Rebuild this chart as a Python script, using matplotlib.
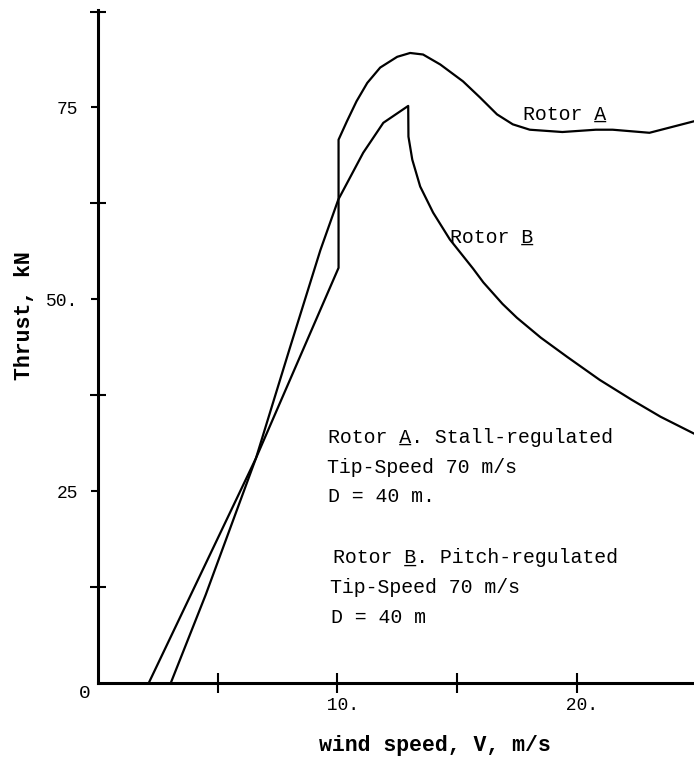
import matplotlib.pyplot as plt

# wind speed (m/s) and thrust (kN)
rotor_a_v = [2.12, 6.6, 10.05, 10.05, 10.4, 10.8, 11.25, 11.79, 12.5, 13.04, 13.58, 14.3,
             15.25, 15.96, 16.67, 17.33, 18.04, 19.4, 20.8, 21.5, 23.04, 24.9]
rotor_a_t = [0.0, 29.3, 54.1, 70.8, 73.2, 75.8, 78.2, 80.2, 81.6, 82.1, 81.9, 80.6,
             78.4, 76.3, 74.1, 72.8, 72.1, 71.8, 72.1, 72.1, 71.7, 73.2]

rotor_b_v = [3.04, 4.5, 6.6, 8.0, 9.29, 10.04, 11.08, 11.92, 12.96,
             12.97, 13.13, 13.46, 14.0, 14.7, 15.67, 16.1, 16.9, 17.5, 18.5,
             19.6, 20.96, 22.3, 23.5, 24.9]
rotor_b_t = [0.0, 11.5, 29.3, 43.5, 56.4, 63.0, 69.1, 73.0, 75.2,
             71.2, 68.2, 64.7, 61.3, 57.8, 54.0, 52.2, 49.4, 47.6, 45.0,
             42.5, 39.5, 36.9, 34.7, 32.5]

x_ticks = [5, 10, 15, 20]
x_ticklabels = ['', ' 10.', '', ' 20.']
y_ticks = [25, 50, 75]
y_ticklabels = ['25', '50.', '75']
y_minor = [12.5, 37.5, 62.5, 87.5]

mono = 'Liberation Mono'

fig = plt.figure(figsize=(6.94, 7.58), dpi=100)
ax = fig.add_axes([98/694, 75/758, 1 - 98/694, 673/758])

ax.plot(rotor_a_v, rotor_a_t, color='black', lw=1.6)
ax.plot(rotor_b_v, rotor_b_t, color='black', lw=1.6)

ax.set_xlim(0, 24.9)
ax.set_ylim(0, 87.7)

ax.spines['top'].set_visible(False)
ax.spines['right'].set_visible(False)
ax.spines['left'].set_linewidth(2.2)
ax.spines['bottom'].set_linewidth(2.2)

ax.set_xticks(x_ticks)
ax.set_xticklabels(x_ticklabels, family=mono, fontsize=13)
ax.tick_params(axis='x', direction='inout', length=14, width=1.5, pad=3)
ax.set_yticks(y_ticks)
ax.set_yticklabels(y_ticklabels, family=mono, fontsize=13)
ax.set_yticks(y_minor, minor=True)
ax.tick_params(axis='y', which='major', direction='out', length=5, width=1.5, pad=9)
ax.tick_params(axis='y', which='minor', direction='inout', length=12, width=1.5)

ax.text(-0.55, -1.4, '0', family=mono, fontsize=14, ha='center', va='center', clip_on=False)

# curve labels (monospace, so an underscore overlay underlines the letter)
def label(x, y, s, under=None):
    ax.text(x, y, s, family=mono, fontsize=14.3, ha='left', va='baseline')
    if under is not None:
        ax.text(x, y, ' ' * under + '_', family=mono, fontsize=14.3, ha='left', va='baseline')

label(17.75, 73.4, 'Rotor A', 6)
label(14.7, 57.4, 'Rotor B', 6)

label(9.6, 31.3, 'Rotor A. Stall-regulated', 6)
label(9.55, 27.4, 'Tip-Speed 70 m/s')
label(9.6, 23.6, 'D = 40 m.')
label(9.8, 15.6, 'Rotor B. Pitch-regulated', 6)
label(9.7, 11.7, 'Tip-Speed 70 m/s')
label(9.75, 7.8, 'D = 40 m')

fig.text(435/694, 1 - 745/758, 'wind speed, V, m/s', family=mono, fontsize=15.5,
         fontweight='bold', ha='center', va='center')
fig.text(25/694, 1 - 316/758, 'Thrust, kN', family=mono, fontsize=15.5,
         fontweight='bold', ha='center', va='center', rotation=90)

fig.savefig('out.png', dpi=100)
